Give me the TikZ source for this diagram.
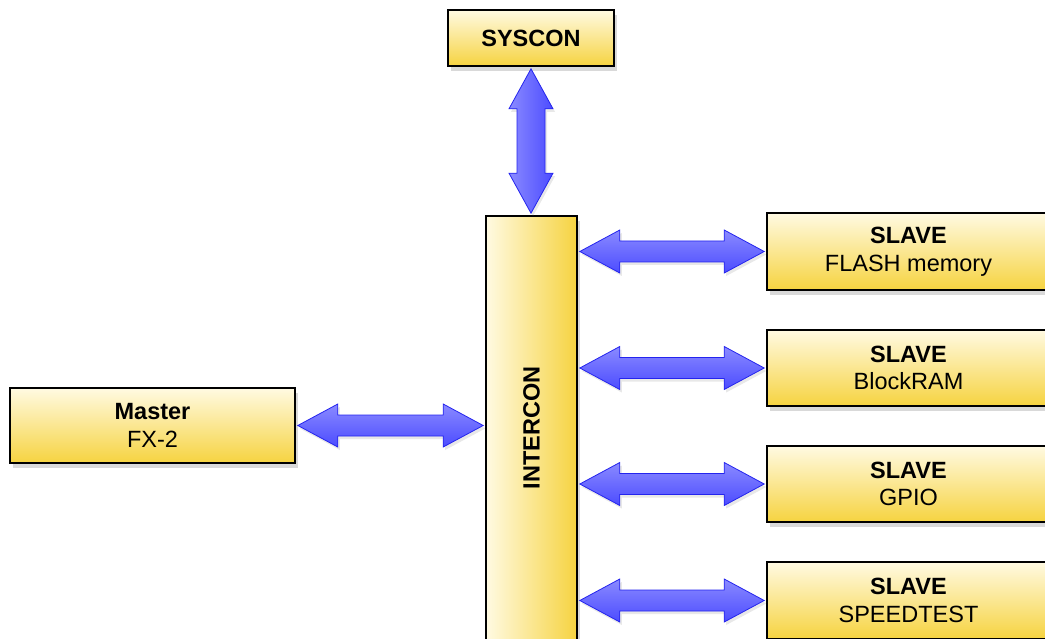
\documentclass[tikz,border=0pt]{standalone}
\usepackage{fontspec}
\setmainfont{Liberation Sans}
\usetikzlibrary{shadows,calc}

\definecolor{boxlight}{HTML}{FFFAE2}
\definecolor{boxgold}{HTML}{F6D340}
\definecolor{arrowlight}{HTML}{8A8AFF}
\definecolor{arrowblue}{HTML}{4C4CFF}
\definecolor{arrowedge}{HTML}{2424EE}

\tikzset{
  unit/.style={draw=black, line width=1.6pt, top color=boxlight, bottom color=boxgold,
    drop shadow={shadow xshift=3pt, shadow yshift=-5pt, opacity=0.3},
    font=\fontsize{23.5}{27.5}\selectfont, align=center, inner sep=0pt},
  busbox/.style={draw=black, line width=1.6pt, left color=boxlight, right color=boxgold,
    drop shadow={shadow xshift=3pt, shadow yshift=-5pt, opacity=0.3}, inner sep=0pt},
  buslabel/.style={rotate=90, font=\fontsize{23.5}{27.5}\selectfont\bfseries},
  link/.style={draw=arrowedge, line width=0.8pt, line join=miter,
    drop shadow={shadow xshift=2pt, shadow yshift=-3pt, opacity=0.18}},
}

% horizontal two-headed bus arrow from #1 (left tip) to #2 (right tip)
\newcommand\hlink[2]{%
  \path[link, top color=arrowlight, bottom color=arrowblue]
    let \p1=(#1), \p2=(#2) in
    (\x1,\y1) -- (\x1+40pt,\y1+21.5pt) -- (\x1+40pt,\y1+10.5pt)
    -- (\x2-40pt,\y1+10.5pt) -- (\x2-40pt,\y1+21.5pt) -- (\x2,\y1)
    -- (\x2-40pt,\y1-21.5pt) -- (\x2-40pt,\y1-10.5pt)
    -- (\x1+40pt,\y1-10.5pt) -- (\x1+40pt,\y1-21.5pt) -- cycle;}

% vertical two-headed bus arrow from #1 (top tip) to #2 (bottom tip)
\newcommand\vlink[2]{%
  \path[link, left color=arrowlight, right color=arrowblue]
    let \p1=(#1), \p2=(#2) in
    (\x1,\y1) -- (\x1+22pt,\y1-40pt) -- (\x1+14pt,\y1-40pt)
    -- (\x1+14pt,\y2+40pt) -- (\x1+22pt,\y2+40pt) -- (\x1,\y2)
    -- (\x1-22pt,\y2+40pt) -- (\x1-14pt,\y2+40pt)
    -- (\x1-14pt,\y1-40pt) -- (\x1-22pt,\y1-40pt) -- cycle;}

\begin{document}
\begin{tikzpicture}[x=1pt,y=-1pt]
  \useasboundingbox (0,0) rectangle (1045,639);

  % blocks
  \node[unit, minimum width=166pt, minimum height=56pt] (syscon) at (531,38) {\textbf{SYSCON}};
  \node[busbox, minimum width=91pt, minimum height=424pt] (inter) at (531.5,428) {};
  \node[buslabel] (interlabel) at (inter.center) {INTERCON};
  \node[unit, minimum width=285pt, minimum height=75pt] (master) at (152.5,425.5) {\textbf{Master}\\FX-2};
  \node[unit, minimum width=283pt, minimum height=77pt] (s1) at (908.5,251.5) {\textbf{SLAVE}\\FLASH memory};
  \node[unit, minimum width=283pt, minimum height=76pt] (s2) at (908.5,368) {\textbf{SLAVE}\\BlockRAM};
  \node[unit, minimum width=283pt, minimum height=76pt] (s3) at (908.5,484) {\textbf{SLAVE}\\GPIO};
  \node[unit, minimum width=283pt, minimum height=77pt] (s4) at (908.5,600.5) {\textbf{SLAVE}\\SPEEDTEST};

  % bus connections
  \vlink{$(syscon.south)+(0,2)$}{$(inter.north)+(0,-2)$}
  \hlink{$(master.east)+(2,0)$}{$(inter.west |- master.east)+(-2,0)$}
  \foreach \s in {s1,s2,s3,s4}{
    \hlink{$(inter.east |- \s.west)+(2,0)$}{$(\s.west)+(-2,0)$}
  }
\end{tikzpicture}
\end{document}
